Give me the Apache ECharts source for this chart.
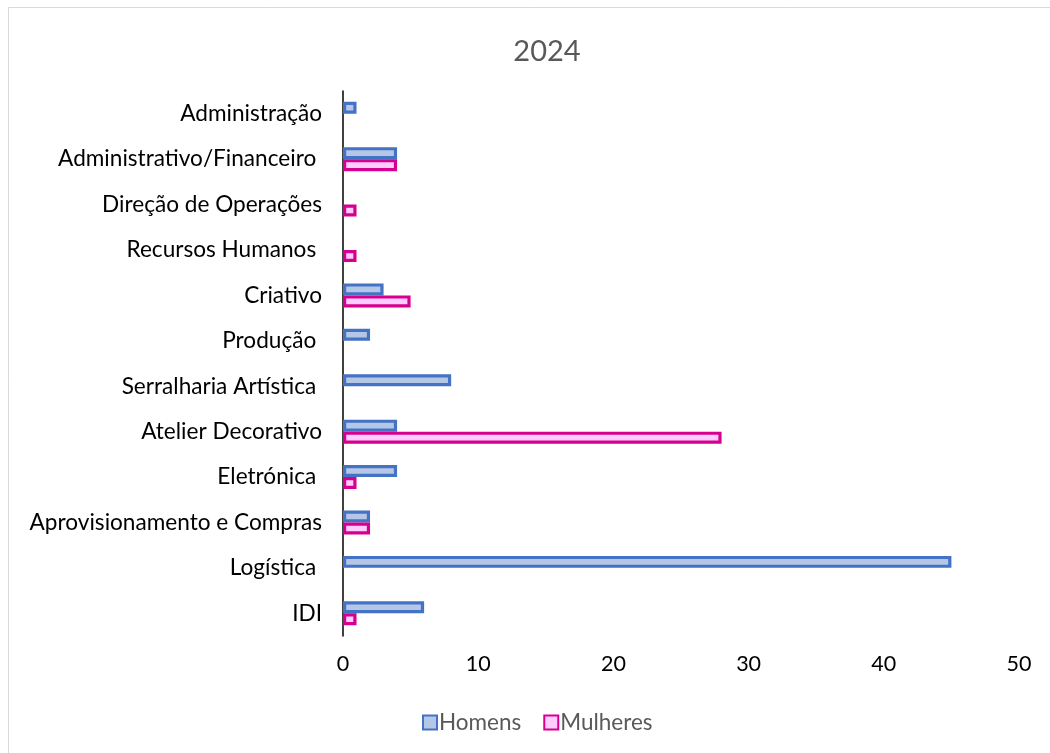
<!DOCTYPE html>
<html>
<head>
<meta charset="utf-8">
<script src="https://cdn.jsdelivr.net/npm/echarts@6/dist/echarts.min.js"></script>
<style>
html, body { margin: 0; padding: 0; background: #fff; }
#chart { width: 1050px; height: 753px; }
</style>
</head>
<body>
<div id="chart"></div>
<script>
var categories = ['Administração', 'Administrativo/Financeiro ', 'Direção de Operações', 'Recursos Humanos ', 'Criativo', 'Produção ', 'Serralharia Artística ', 'Atelier Decorativo', 'Eletrónica ', 'Aprovisionamento e Compras', 'Logística ', 'IDI'];
var homens = [1, 4, 0, 0, 3, 2, 8, 4, 4, 2, 45, 6];
var mulheres = [0, 4, 1, 1, 5, 0, 0, 28, 1, 2, 0, 1];
var xTicks = [0, 10, 20, 30, 40, 50];

var font = 'Lato, "Open Sans", sans-serif';

function hideZero(arr) {
    return arr.map(function (v) { return v === 0 ? '-' : v; });
}

var myChart = echarts.init(document.getElementById('chart'));
var option = {
    animation: false,
    textStyle: { fontFamily: font },
    title: {
        text: '2024',
        left: 542,
        top: 32,
        textAlign: 'center',
        textStyle: { fontSize: 29, fontWeight: 'normal', color: '#595959', fontFamily: font }
    },
    graphic: [{
        type: 'rect',
        shape: { x: 8.5, y: 7.5, width: 1200, height: 900 },
        style: { fill: 'none', stroke: '#d9d9d9', lineWidth: 1 },
        silent: true
    }],
    legend: {
        data: ['Homens', 'Mulheres'],
        left: 417,
        top: 706,
        icon: 'rect',
        itemWidth: 14,
        itemHeight: 14,
        itemGap: 22,
        textStyle: { fontSize: 22.5, color: '#595959', fontFamily: font, padding: [0, 0, 0, -3] }
    },
    grid: {
        left: 343,
        right: 31,
        top: 91,
        bottom: 117,
        containLabel: false
    },
    xAxis: {
        type: 'value',
        min: xTicks[0],
        max: xTicks[xTicks.length - 1],
        interval: 10,
        splitLine: { show: false },
        axisLine: { show: false },
        axisTick: { show: false },
        axisLabel: { margin: 17, fontSize: 21.5, color: '#000', fontFamily: font }
    },
    yAxis: {
        type: 'category',
        inverse: true,
        data: categories,
        axisLine: { show: true, lineStyle: { color: '#000', width: 1.5 } },
        axisTick: { show: false },
        axisLabel: { margin: 21, fontSize: 22.6, color: '#000', fontFamily: font }
    },
    series: [{
        name: 'Homens',
        type: 'bar',
        data: hideZero(homens),
        barWidth: 12,
        barGap: '0%',
        itemStyle: { color: '#b4c7e7', borderColor: '#4472c4', borderWidth: 3.2 }
    }, {
        name: 'Mulheres',
        type: 'bar',
        data: hideZero(mulheres),
        barWidth: 12,
        itemStyle: { color: '#ffccff', borderColor: '#d6008f', borderWidth: 3.2 }
    }]
};
myChart.setOption(option);
</script>
</body>
</html>
